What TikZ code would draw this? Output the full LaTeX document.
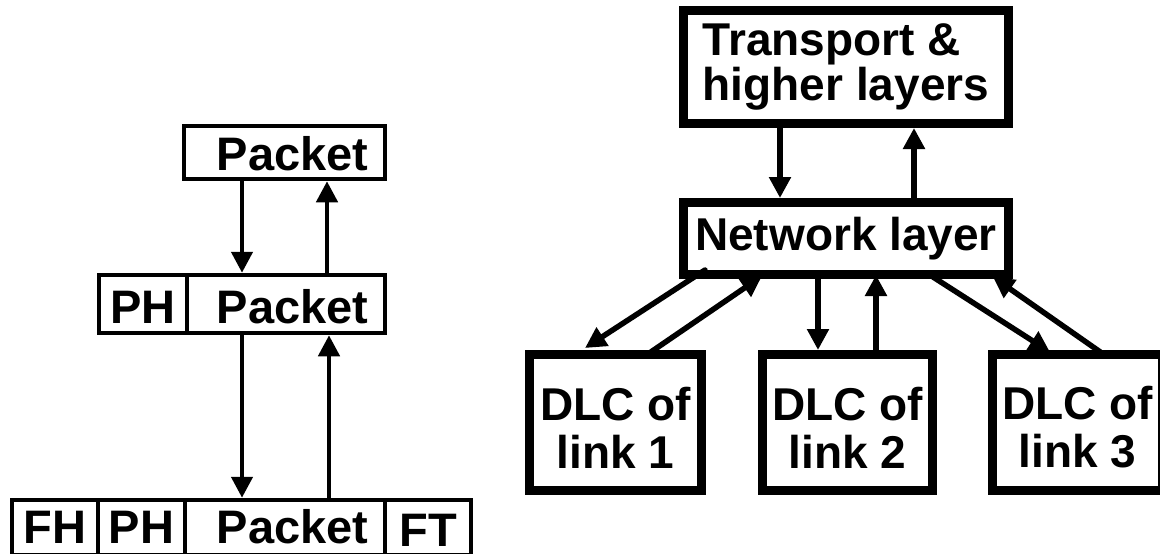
\documentclass[tikz,border=0pt]{standalone}
\usepackage{fontspec}
\setmainfont{Liberation Sans}
\usetikzlibrary{arrows.meta,calc}
\begin{document}
\begin{tikzpicture}[x=1pt,y=-1pt,
  lbox/.style={draw, line width=4.5pt, inner sep=0pt,
    font=\bfseries\fontsize{47}{47}\selectfont},
  rbox/.style={draw, line width=9pt, inner sep=0pt, align=center,
    font=\bfseries\fontsize{46}{48}\selectfont},
  dlcbox/.style={rbox, minimum width=172pt, minimum height=136pt},
  dlctext/.style={inner sep=0pt, align=center,
    font=\bfseries\fontsize{46}{48}\selectfont},
  tipshape/.tip={Triangle[length=21pt,width=21pt]},
  larr/.style={line width=4.5pt, line cap=round, -tipshape},
  rarr/.style={line width=5.5pt, line cap=round, -tipshape},
]
\useasboundingbox (0,0) rectangle (1160,554);

% ---- encapsulation stack ----
\node[lbox, minimum width=201pt, minimum height=53pt, text height=35pt, text depth=0pt]
  (pk1) at (284.5,152.5) {\hspace{16pt}Packet};

\node[lbox, minimum width=88pt, minimum height=58pt, text height=38pt, text depth=0pt]
  (ph2) at (143,304) {PH};
\node[lbox, minimum width=198pt, minimum height=58pt, text height=38pt, text depth=0pt]
  (pk2) at (286,304) {\hspace{13pt}Packet};

\node[lbox, minimum width=86pt, minimum height=55pt, text height=31pt, text depth=0pt]
  (fh3) at (55,527.5) {FH};
\node[lbox, minimum width=87pt, minimum height=55pt, text height=31pt, text depth=0pt]
  (ph3) at (141.5,527.5) {PH};
\node[lbox, minimum width=200pt, minimum height=55pt, text height=31pt, text depth=0pt]
  (pk3) at (285,527.5) {\hspace{15pt}Packet};
\node[lbox, minimum width=86pt, minimum height=55pt, text height=37pt, text depth=0pt]
  (ft3) at (428,527.5) {FT};

\draw[larr] ($(pk1.south)+(-42.5,0)$) -- ($(pk2.north)+(-44,0)$);
\draw[larr] ($(pk2.north)+(41,0)$) -- ($(pk1.south)+(42.5,0)$);
\draw[larr] ($(pk2.south)+(-44,0)$) -- ($(pk3.north)+(-43,0)$);
\draw[larr] ($(pk3.north)+(44,0)$) -- ($(pk2.south)+(43,0)$);

% ---- layers ----
\node[rbox, align=left, minimum width=325pt, minimum height=113pt,
  font=\bfseries\fontsize{46}{45}\selectfont]
  (tl) at (846,67) {Transport \&\\higher layers};
\node[rbox, minimum width=325pt, minimum height=72pt]
  (net) at (846,238.5) {Network layer};

\node[dlcbox] (dlc1) at (615.5,422.5) {};
\node[dlcbox, minimum width=170pt] (dlc2) at (847.5,422.5) {};
\node[dlcbox, minimum width=170pt] (dlc3) at (1077.5,422.5) {};
\node[dlctext] (t1) at ($(dlc1.center)+(0,5)$) {DLC of\\link 1};
\node[dlctext] (t2) at ($(dlc2.center)+(0,5)$) {DLC of\\link 2};
\node[dlctext] (t3) at ($(dlc3.center)+(0,5)$) {DLC of\\link 3};

\draw[rarr] ($(tl.south)+(-66,0)$) -- ($(net.north)+(-66,0)$);
\draw[rarr] ($(net.north)+(68,0)$) -- ($(tl.south)+(68,0)$);

\draw[rarr] ($(net.south)+(-141,-9)$) -- ($(dlc1.north)+(-30.5,-2)$);
\draw[rarr] ($(dlc1.north)+(29.5,6)$) -- ($(net.south)+(-84,-3)$);
\draw[rarr] ($(net.south)+(-28,0)$) -- ($(dlc2.north)+(-29.5,0)$);
\draw[rarr] ($(dlc2.north)+(28.5,6)$) -- ($(net.south)+(30,-4)$);
\draw[rarr] ($(net.south)+(87,-2)$) -- ($(dlc3.north)+(-27.5,2)$);
\draw[rarr] ($(dlc3.north)+(28.5,6)$) -- ($(net.south)+(147,-2)$);
\end{tikzpicture}
\end{document}
